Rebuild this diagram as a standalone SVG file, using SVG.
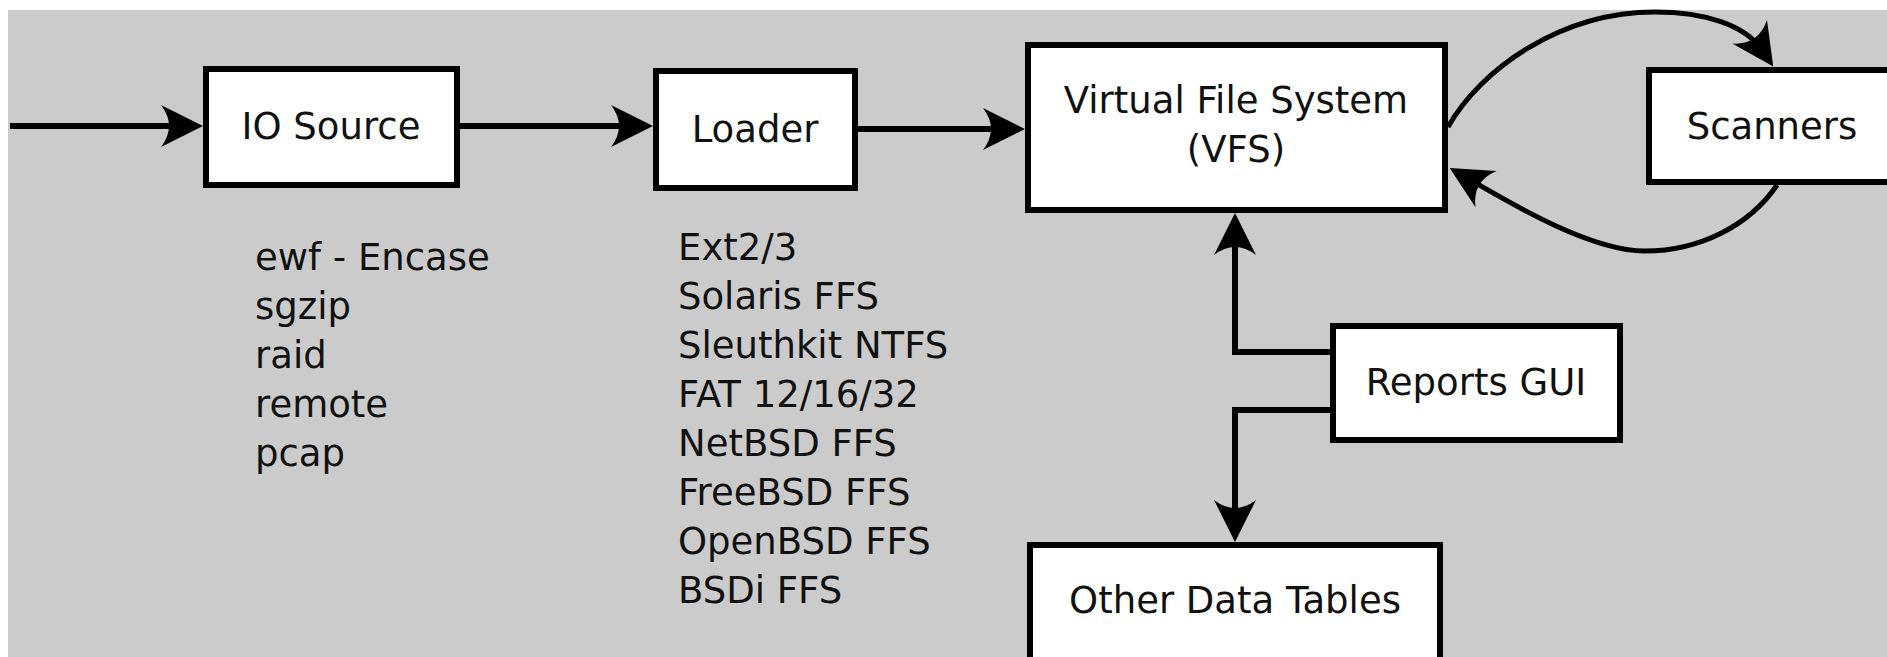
<svg xmlns="http://www.w3.org/2000/svg" width="1887" height="657" viewBox="0 0 1887 657">
  <style>
    .box { fill: #ffffff; stroke: #000000; stroke-width: 6; }
    .lbl { font-family: "DejaVu Sans", "Liberation Sans", sans-serif; font-size: 37px; fill: #111111; }
    .mid { text-anchor: middle; }
    .conn { fill: none; stroke: #000000; stroke-width: 6; }
    .curve { fill: none; stroke: #000000; stroke-width: 5; }
  </style>
  <defs>
    <marker id="arrow" markerUnits="userSpaceOnUse" markerWidth="44" markerHeight="44" refX="22" refY="21" orient="auto" overflow="visible">
      <path d="M42,21 L0,0 Q16,21 0,42 Z" fill="#000000"/>
    </marker>
  </defs>
  <rect x="0" y="0" width="1887" height="657" fill="#ffffff"/>
  <rect x="8" y="10" width="1879" height="647" fill="#cbcbcb"/>

  <g id="connectors">
    <path class="conn" d="M10,126 H183" marker-end="url(#arrow)"/>
    <path class="conn" d="M460,126 H633" marker-end="url(#arrow)"/>
    <path class="conn" d="M858,129 H1005" marker-end="url(#arrow)"/>
    <path class="curve" d="M1448,127 C1480,70 1560,12 1655,12 C1705,12 1745,25 1762,50" marker-end="url(#arrow)"/>
    <path class="curve" d="M1777,185 C1750,225 1700,251 1645,251 C1590,251 1510,203 1467,178" marker-end="url(#arrow)"/>
    <path class="conn" d="M1330,352 H1235 V233" marker-end="url(#arrow)"/>
    <path class="conn" d="M1330,410 H1235 V522" marker-end="url(#arrow)"/>
  </g>

  <g id="io-source">
    <rect class="box" x="206" y="69" width="251" height="116"/>
    <text class="lbl mid" x="331" y="139">IO Source</text>
  </g>
  <g id="loader">
    <rect class="box" x="656" y="71" width="199" height="117"/>
    <text class="lbl mid" x="755" y="142">Loader</text>
  </g>
  <g id="vfs">
    <rect class="box" x="1028" y="45" width="417" height="165"/>
    <text class="lbl mid" x="1236" y="113">Virtual File System</text>
    <text class="lbl mid" x="1236" y="162">(VFS)</text>
  </g>
  <g id="scanners">
    <rect class="box" x="1649" y="70" width="260" height="112"/>
    <text class="lbl mid" x="1772" y="139">Scanners</text>
  </g>
  <g id="reports-gui">
    <rect class="box" x="1333" y="326" width="287" height="114"/>
    <text class="lbl mid" x="1476" y="395">Reports GUI</text>
  </g>
  <g id="other-data-tables">
    <rect class="box" x="1030" y="545" width="410" height="150"/>
    <text class="lbl mid" x="1235" y="613">Other Data Tables</text>
  </g>

  <g id="io-source-list">
    <text class="lbl" x="255" y="270">ewf - Encase</text>
    <text class="lbl" x="255" y="319">sgzip</text>
    <text class="lbl" x="255" y="368">raid</text>
    <text class="lbl" x="255" y="417">remote</text>
    <text class="lbl" x="255" y="466">pcap</text>
  </g>
  <g id="loader-list">
    <text class="lbl" x="678" y="260">Ext2/3</text>
    <text class="lbl" x="678" y="309">Solaris FFS</text>
    <text class="lbl" x="678" y="358">Sleuthkit NTFS</text>
    <text class="lbl" x="678" y="407">FAT 12/16/32</text>
    <text class="lbl" x="678" y="456">NetBSD FFS</text>
    <text class="lbl" x="678" y="505">FreeBSD FFS</text>
    <text class="lbl" x="678" y="554">OpenBSD FFS</text>
    <text class="lbl" x="678" y="603">BSDi FFS</text>
  </g>
</svg>
